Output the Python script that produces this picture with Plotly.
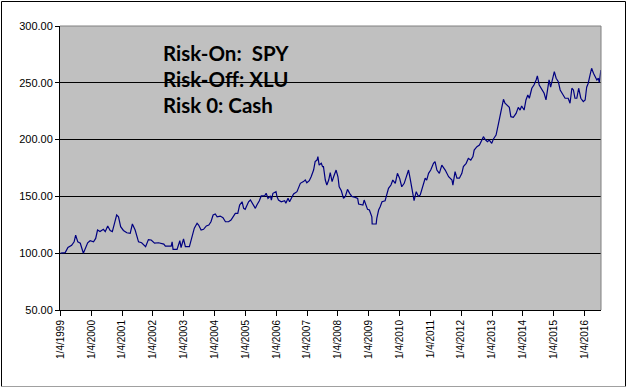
import plotly.graph_objects as go

# Decimal-year time stamps and index values
t_year = [
    1999.01, 1999.16, 1999.25, 1999.37, 1999.45, 1999.50, 1999.57, 1999.65, 1999.75, 1999.81,
    1999.89, 1999.97, 2000.08, 2000.15, 2000.21, 2000.29, 2000.40, 2000.46, 2000.54, 2000.62,
    2000.69, 2000.76, 2000.83, 2000.89, 2000.96, 2001.05, 2001.16, 2001.27, 2001.34, 2001.43,
    2001.54, 2001.64, 2001.77, 2001.86, 2001.95, 2002.06, 2002.13, 2002.19, 2002.36, 2002.41,
    2002.60, 2002.63, 2002.66, 2002.79, 2002.88, 2002.92, 2003.00, 2003.06, 2003.19, 2003.25,
    2003.28, 2003.35, 2003.44, 2003.49, 2003.57, 2003.65, 2003.74, 2003.82, 2003.89, 2003.96,
    2004.03, 2004.09, 2004.19, 2004.28, 2004.36, 2004.46, 2004.54, 2004.61, 2004.68, 2004.76,
    2004.82, 2004.90, 2004.95, 2005.00, 2005.11, 2005.17, 2005.24, 2005.33, 2005.38, 2005.46,
    2005.52, 2005.63, 2005.68, 2005.74, 2005.82, 2005.85, 2005.90, 2006.00, 2006.03, 2006.08,
    2006.17, 2006.28, 2006.32, 2006.39, 2006.44, 2006.52, 2006.57, 2006.68, 2006.73, 2006.79,
    2006.89, 2006.95, 2007.00, 2007.08, 2007.14, 2007.22, 2007.27, 2007.33, 2007.36, 2007.40,
    2007.47, 2007.51, 2007.54, 2007.60, 2007.65, 2007.71, 2007.76, 2007.82, 2007.87, 2007.95,
    2008.01, 2008.05, 2008.12, 2008.16, 2008.19, 2008.25, 2008.32, 2008.39, 2008.46, 2008.57,
    2008.65, 2008.68, 2008.82, 2008.86, 2008.93, 2008.97, 2009.03, 2009.11, 2009.12, 2009.25,
    2009.27, 2009.33, 2009.38, 2009.44, 2009.54, 2009.58, 2009.65, 2009.73, 2009.79, 2009.87,
    2009.94, 2010.01, 2010.08, 2010.16, 2010.22, 2010.30, 2010.35, 2010.41, 2010.46, 2010.48,
    2010.55, 2010.62, 2010.68, 2010.73, 2010.78, 2010.84, 2010.89, 2010.95, 2011.02, 2011.11,
    2011.16, 2011.22, 2011.30, 2011.38, 2011.49, 2011.54, 2011.60, 2011.71, 2011.74, 2011.81,
    2011.87, 2011.95, 2012.03, 2012.08, 2012.17, 2012.24, 2012.32, 2012.39, 2012.43, 2012.52,
    2012.60, 2012.68, 2012.73, 2012.78, 2012.86, 2012.92, 2013.00, 2013.05, 2013.14, 2013.22,
    2013.27, 2013.33, 2013.38, 2013.43, 2013.51, 2013.57, 2013.62, 2013.70, 2013.79, 2013.86,
    2013.92, 2013.97, 2014.05, 2014.11, 2014.17, 2014.22, 2014.30, 2014.37, 2014.44, 2014.48,
    2014.54, 2014.62, 2014.70, 2014.76, 2014.80, 2014.86, 2014.91, 2014.98, 2015.03, 2015.09,
    2015.16, 2015.22, 2015.30, 2015.38, 2015.48, 2015.54, 2015.60, 2015.65, 2015.70, 2015.76,
    2015.82, 2015.89, 2015.97, 2016.03, 2016.08, 2016.13, 2016.19, 2016.24, 2016.30, 2016.35,
    2016.41, 2016.46, 2016.49, 2016.54,
]
value = [
    100.0, 100.5, 105.0, 107.0, 110.0, 115.8, 110.0, 108.8, 100.0, 104.3,
    109.2, 111.0, 110.0, 113.0, 120.4, 119.0, 121.0, 119.0, 124.0, 120.0,
    119.0, 126.3, 133.6, 132.0, 123.3, 120.0, 118.0, 117.5, 125.7, 120.4,
    110.0, 109.2, 105.7, 112.0, 111.6, 108.8, 108.8, 109.2, 108.0, 106.3,
    106.3, 110.0, 103.4, 103.4, 111.0, 105.0, 112.5, 105.7, 105.7, 111.6,
    113.0, 122.0, 126.3, 124.8, 120.4, 121.0, 124.0, 124.8, 127.7, 133.6,
    134.5, 132.0, 132.7, 131.2, 127.7, 127.7, 129.2, 132.0, 135.0, 135.0,
    142.4, 145.3, 139.5, 138.6, 145.3, 146.8, 143.3, 139.5, 142.4, 146.2,
    150.4, 150.4, 152.7, 148.3, 150.4, 146.8, 152.7, 154.2, 150.0, 146.8,
    145.3, 146.2, 143.9, 148.3, 145.3, 149.2, 152.1, 154.2, 158.5, 161.5,
    163.0, 164.4, 162.0, 163.8, 167.3, 173.2, 180.6, 182.0, 185.0, 177.6,
    179.1, 176.2, 176.2, 164.4, 160.0, 164.4, 170.9, 163.0, 167.3, 173.2,
    167.3, 158.5, 155.0, 150.4, 148.3, 150.0, 156.2, 152.7, 150.0, 149.1,
    148.3, 143.3, 142.4, 146.8, 142.4, 138.6, 138.0, 132.0, 125.7, 125.7,
    130.7, 138.0, 140.9, 145.3, 146.2, 151.3, 157.1, 160.0, 164.4, 161.5,
    170.3, 166.0, 158.5, 161.5, 167.3, 173.2, 166.0, 155.6, 150.0, 146.2,
    154.2, 150.0, 151.3, 155.6, 160.0, 166.0, 164.4, 170.3, 173.2, 179.1,
    180.6, 173.2, 170.3, 177.6, 173.2, 170.3, 167.3, 164.4, 160.0, 171.8,
    166.0, 166.0, 170.3, 176.2, 179.1, 183.5, 182.0, 185.0, 190.8, 193.8,
    195.2, 199.6, 202.6, 200.3, 198.2, 199.6, 196.7, 200.3, 204.0, 214.3,
    221.7, 230.5, 235.5, 232.0, 229.6, 228.4, 220.2, 219.6, 223.1, 228.4,
    226.0, 229.6, 226.0, 234.9, 239.3, 236.4, 245.2, 248.1, 252.5, 256.0,
    248.1, 244.3, 240.8, 234.9, 243.7, 252.5, 246.1, 255.4, 259.8, 254.0,
    251.0, 243.7, 239.3, 236.4, 236.4, 232.0, 245.2, 243.7, 236.4, 236.4,
    245.2, 236.4, 233.4, 234.9, 246.1, 249.6, 256.9, 262.8, 258.4, 255.4,
    252.5, 254.0, 250.1, 261.3,
]

tick_years = list(range(1999, 2017))
tick_text = [f"1/4/{y}" for y in tick_years]
tick_vals = [y + 3 / 365 for y in tick_years]

annotation_lines = ["Risk-On:  SPY", "Risk-Off: XLU", "Risk 0: Cash"]

W, H = 626, 388
ML, MR, MT, MB = 60, 25, 26, 78
PW, PH = W - ML - MR, H - MT - MB


def px(x):
    return (x - ML) / PW


def py(y):
    return (H - MB - y) / PH


fig = go.Figure()
fig.add_trace(go.Scatter(
    x=t_year, y=value, mode="lines",
    line=dict(color="#000080", width=1.2),
    hoverinfo="skip", showlegend=False,
))

fig.update_layout(
    width=W, height=H,
    margin=dict(l=ML, r=MR, t=MT, b=MB),
    paper_bgcolor="white",
    plot_bgcolor="#C0C0C0",
    font=dict(family="Liberation Sans, Arial, sans-serif", color="black"),
    showlegend=False,
    xaxis=dict(
        range=[1999.0 + 3 / 365 - 0.5 / 30.85, 1999.0 + 3 / 365 + 541 / 30.85],
        tickmode="array", tickvals=tick_vals, ticktext=tick_text,
        tickangle=-90, tickfont=dict(size=10),
        ticks="outside", ticklen=5, tickcolor="black",
        showgrid=False, zeroline=False,
        showline=True, linecolor="black", linewidth=1,
    ),
    yaxis=dict(
        range=[50, 300], dtick=50, tick0=50, tickformat=".2f",
        tickfont=dict(size=11),
        ticks="outside", ticklen=4, tickcolor="black",
        showgrid=True, gridcolor="black", gridwidth=1,
        zeroline=False,
        showline=True, linecolor="black", linewidth=1,
    ),
    shapes=[
        # plot-area top and right border (gray)
        dict(type="line", xref="paper", yref="paper", x0=0, x1=1, y0=1, y1=1,
             line=dict(color="#808080", width=1), layer="above"),
        dict(type="line", xref="paper", yref="paper", x0=1, x1=1, y0=0, y1=1,
             line=dict(color="#808080", width=1), layer="above"),
        # outer chart border
        dict(type="line", xref="paper", yref="paper", x0=px(1.5), x1=px(625.5), y0=py(1.5), y1=py(1.5),
             line=dict(color="black", width=1)),
        dict(type="line", xref="paper", yref="paper", x0=px(1.5), x1=px(1.5), y0=py(1.5), y1=py(386.5),
             line=dict(color="black", width=1)),
        dict(type="line", xref="paper", yref="paper", x0=px(625.5), x1=px(625.5), y0=py(1.5), y1=py(386.5),
             line=dict(color="black", width=1)),
        dict(type="line", xref="paper", yref="paper", x0=px(1.5), x1=px(625.5), y0=py(386.5), y1=py(386.5),
             line=dict(color="#A0A0A0", width=1)),
    ],
)

for i, s in enumerate(annotation_lines):
    fig.add_annotation(
        xref="paper", yref="paper", x=px(161), y=py(39 + 26 * i),
        xanchor="left", yanchor="top", align="left", showarrow=False,
        text=f"<b>{s}</b>",
        font=dict(family="Lato, Noto Sans, sans-serif", size=20.5, color="black"),
    )

fig.write_html(
    "out.html",
    config={"displayModeBar": False},
    post_script="document.body.style.margin='0';document.body.style.overflow='hidden';",
)
